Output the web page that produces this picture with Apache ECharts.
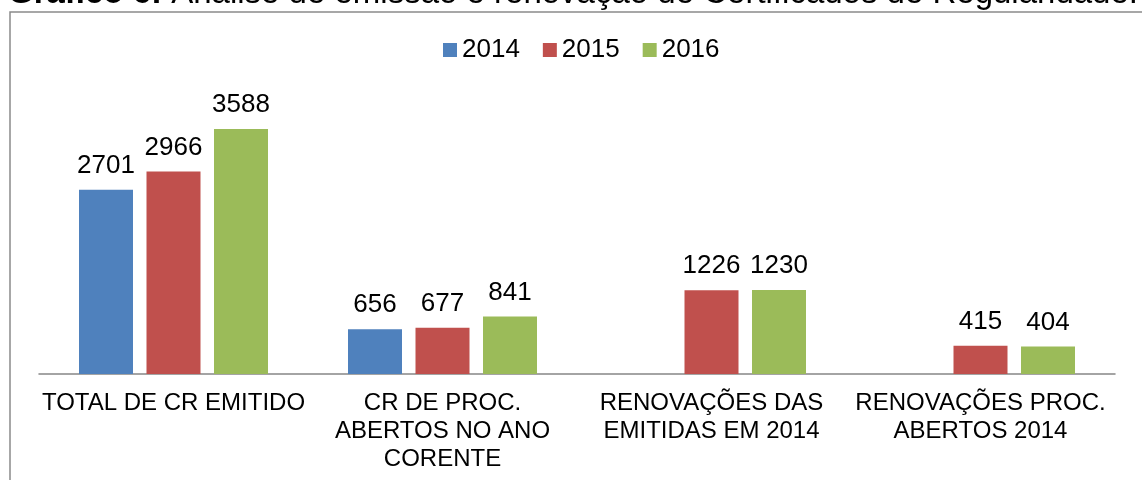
<!DOCTYPE html>
<html>
<head>
<meta charset="utf-8">
<script src="https://cdn.jsdelivr.net/npm/echarts@6/dist/echarts.min.js"></script>
<style>
  html, body { margin: 0; padding: 0; background: #fff; }
  #chart { width: 1142px; height: 480px; }
</style>
</head>
<body>
<div id="chart"></div>
<script>
const categories = [
  'TOTAL DE CR EMITIDO',
  'CR DE PROC.\nABERTOS NO ANO\nCORENTE',
  'RENOVAÇÕES DAS\nEMITIDAS EM 2014',
  'RENOVAÇÕES PROC.\nABERTOS 2014'
];
const years = ['2014', '2015', '2016'];
const values2014 = [2701, 656, null, null];
const values2015 = [2966, 677, 1226, 415];
const values2016 = [3588, 841, 1230, 404];
const colors = ['#4F81BD', '#C0504D', '#9BBB59'];

const font = "'Liberation Sans', Arial, sans-serif";

const chart = echarts.init(document.getElementById('chart'));

const makeSeries = (name, data) => ({
  name,
  type: 'bar',
  data,
  barWidth: 54,
  barGap: '25%',
  label: {
    show: true,
    position: 'top',
    distance: 11,
    color: '#000',
    fontFamily: font,
    fontSize: 26
  }
});

chart.setOption({
  animation: false,
  color: colors,
  textStyle: { fontFamily: font },
  graphic: [
    {
      type: 'rect',
      shape: { x: 10, y: 12, width: 1300, height: 600 },
      style: { fill: 'none', stroke: '#8a8a8a', lineWidth: 1.5 },
      silent: true
    },
    {
      type: 'text',
      x: 8,
      y: 10,
      style: {
        text: '{b|Gráfico 6:} Análise de emissão e renovação de Certificados de Regularidade.',
        font: '33px ' + font,
        fill: '#000',
        verticalAlign: 'bottom',
        rich: {
          b: { fontWeight: 'bold', fontSize: 33, fontFamily: font }
        }
      },
      silent: true
    }
  ],
  legend: {
    top: 32,
    left: 438,
    itemWidth: 14,
    itemHeight: 14,
    itemGap: 23,
    icon: 'rect',
    textStyle: { color: '#000', fontSize: 26, fontFamily: font },
    data: years
  },
  grid: { left: 39, right: 27, top: 101, bottom: 106 },
  xAxis: {
    type: 'category',
    data: categories,
    axisLine: { lineStyle: { color: '#868686', width: 1.5 } },
    axisTick: { show: false },
    axisLabel: {
      color: '#000',
      fontSize: 24,
      lineHeight: 28,
      margin: 15,
      interval: 0,
      fontFamily: font
    }
  },
  yAxis: {
    type: 'value',
    min: 0,
    max: 4000,
    show: false,
    splitLine: { show: false }
  },
  series: [
    makeSeries(years[0], values2014),
    makeSeries(years[1], values2015),
    makeSeries(years[2], values2016)
  ]
});
</script>
</body>
</html>
